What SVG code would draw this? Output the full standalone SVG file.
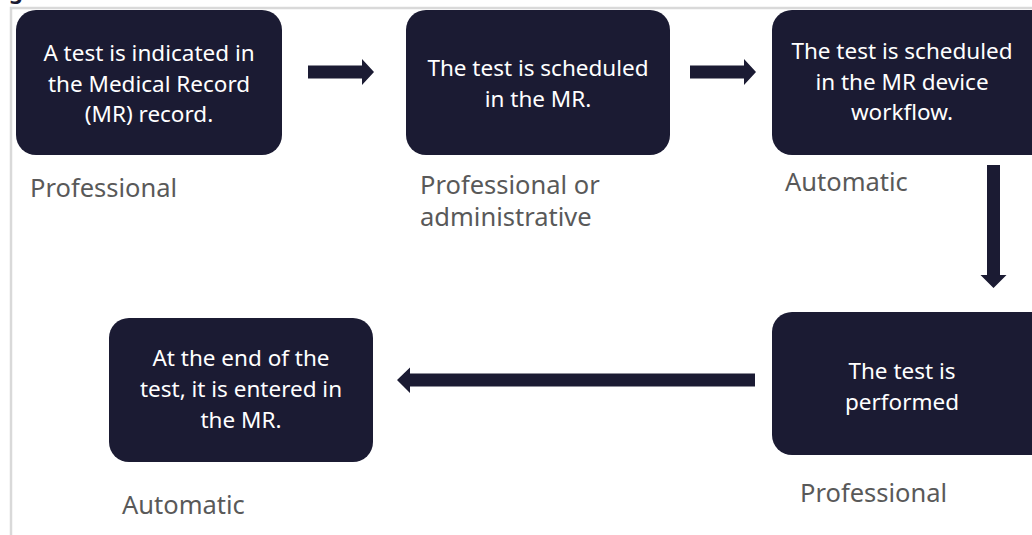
<svg xmlns="http://www.w3.org/2000/svg" width="1032" height="535" viewBox="0 0 1032 535">
<style>
.box{fill:#1b1b33;}
.bt{fill:#ffffff;font-family:"Noto Sans","Open Sans",sans-serif;font-size:22.5px;text-anchor:middle;}
.lbl{fill:#595959;font-family:"Noto Sans","Open Sans",sans-serif;font-size:25.5px;}
.arr{fill:#1b1b33;}
.frame{stroke:#d9d9d9;stroke-width:2.5;fill:none;}
</style>
<rect width="1032" height="535" fill="#ffffff"/>
<text x="9" y="-1" font-family="Noto Sans, sans-serif" font-size="22" font-weight="bold" fill="#1b1b33">g</text>
<path class="frame" d="M1032 8 H11 V535"/>
<g id="node1">
<rect class="box" x="16" y="10" width="266" height="145" rx="20"/>
<text class="bt" x="149" y="61">A test is indicated in</text>
<text class="bt" x="149" y="92">the Medical Record</text>
<text class="bt" x="149" y="122">(MR) record.</text>
<text class="lbl" x="30" y="197">Professional</text>
</g>
<g id="node2">
<rect class="box" x="406" y="10" width="264" height="145" rx="20"/>
<text class="bt" x="538" y="76">The test is scheduled</text>
<text class="bt" x="538" y="107">in the MR.</text>
<text class="lbl" x="420" y="194">Professional or</text>
<text class="lbl" x="420" y="226">administrative</text>
</g>
<g id="node3">
<rect class="box" x="772" y="10" width="280" height="145" rx="20"/>
<text class="bt" x="902" y="59">The test is scheduled</text>
<text class="bt" x="902" y="90">in the MR device</text>
<text class="bt" x="902" y="120">workflow.</text>
<text class="lbl" x="785" y="191">Automatic</text>
</g>
<g id="node4">
<rect class="box" x="772" y="312" width="280" height="143" rx="20"/>
<text class="bt" x="902" y="379">The test is</text>
<text class="bt" x="902" y="410">performed</text>
<text class="lbl" x="800" y="502">Professional</text>
</g>
<g id="node5">
<rect class="box" x="109" y="318" width="264" height="144" rx="20"/>
<text class="bt" x="241" y="366">At the end of the</text>
<text class="bt" x="241" y="397">test, it is entered in</text>
<text class="bt" x="241" y="428">the MR.</text>
<text class="lbl" x="122" y="514">Automatic</text>
</g>
<g id="connectors">
<polygon class="arr" points="308,65.5 362,65.5 362,59 374,72 362,85 362,78.5 308,78.5"/>
<polygon class="arr" points="690,65.5 744,65.5 744,59 756,72 744,85 744,78.5 690,78.5"/>
<polygon class="arr" points="987,165 1000,165 1000,275 1006.5,275 993.5,288 980.5,275 987,275"/>
<polygon class="arr" points="755,373.5 410,373.5 410,367.5 397,380 410,393 410,386.5 755,386.5"/>
</g>
</svg>
